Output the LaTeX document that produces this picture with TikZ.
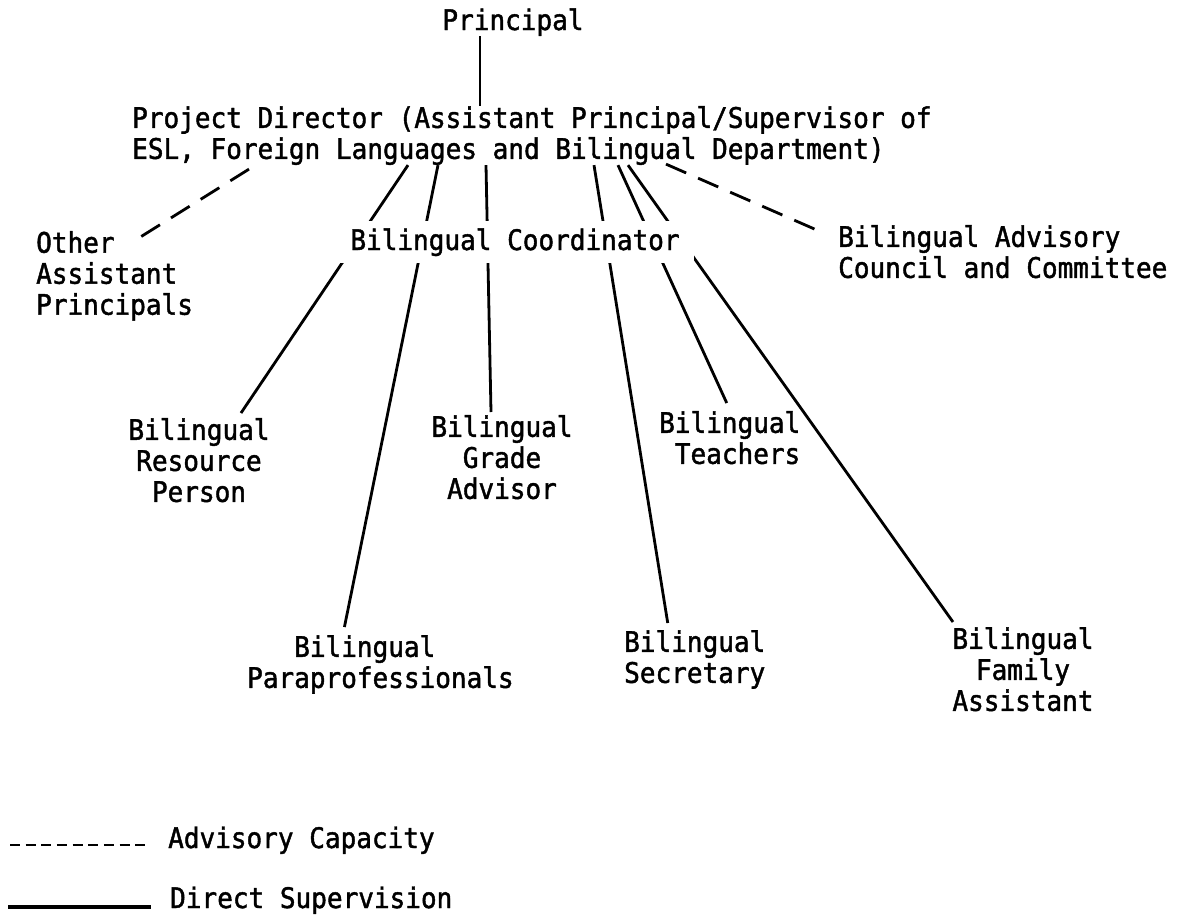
\documentclass[tikz,border=0pt]{standalone}
\usepackage{fontspec}
\newfontfamily\typed[FakeStretch=0.92,FakeBold=1.5]{DejaVu Sans Mono}
\usetikzlibrary{positioning,calc}

\tikzset{
  post/.style={font=\typed\fontsize{28.3}{31}\selectfont, inner sep=0pt},
  supervise/.style={line width=2.8pt},
  advise/.style={line width=2.8pt, dash pattern=on 22pt off 13pt},
}

\begin{document}
\begin{tikzpicture}[x=1pt,y=-1pt]
    \useasboundingbox (0,0) rectangle (1184,922);

    % Principal and project director
    \node[post, anchor=base] (prin) at (513,30) {Principal};
    \node[post, anchor=north west, align=left] (pd) at (132,106)
        {Project Director (Assistant Principal/Supervisor of\\ESL, Foreign Languages and Bilingual Department)};
    \draw[supervise] ([xshift=-33pt]prin.south) coordinate (p1) -- (p1 |- pd.north);

    % Advisory side
    \node[post, anchor=north west, align=left] (oap) at (36,231) {Other\\Assistant\\Principals};
    \node[post, anchor=north west, align=left] (bac) at (838,225) {Bilingual Advisory\\Council and Committee};
    \draw[advise] ([xshift=117pt,yshift=-4pt]pd.south west) -- ([xshift=98pt,yshift=-10pt]oap.north west);
    \draw[advise] ([xshift=534pt,yshift=1pt]pd.south west) -- ([xshift=-19pt,yshift=-6pt]bac.north west);

    % Bilingual staff
    \node[post, anchor=north, align=center] (res) at (199,418) {Bilingual\\Resource\\Person};
    \node[post, anchor=north, align=center] (grade) at (502,415) {Bilingual\\Grade\\Advisor};
    \node[post, anchor=north west, align=left] (teach) at (659,411) {Bilingual\\\hphantom{B}Teachers};
    \node[post, anchor=north west, align=left] (para) at (247,635) {\hphantom{Par}Bilingual\\Paraprofessionals};
    \node[post, anchor=north west, align=left] (sec) at (624,630) {Bilingual\\Secretary};
    \node[post, anchor=north, align=center] (fam) at (1023,627) {Bilingual\\Family\\Assistant};

    \foreach \sx/\who/\ex/\ey in {276/res/42/5, 306/para/-36/8, 354/grade/-11/3,
                                  462/sec/-27/7, 486/teach/-3/8, 496/fam/-70/5}
        \draw[supervise] ([xshift=\sx]pd.south west) -- ([xshift=\ex,yshift=\ey]\who.north);

    % Coordinator on top of the lines
    \node[post, fill=white, inner xsep=14pt, inner ysep=7pt, anchor=base] (coord) at (515,250) {Bilingual Coordinator};

    % Legend
    \node[post, anchor=base west] (advcap) at (168,848) {Advisory Capacity};
    \node[post, anchor=base west] (dirsup) at (170,908) {Direct Supervision};
    \coordinate (advkey) at (10,845);
    \coordinate (supkey) at (8,907);
    \draw[line width=2.8pt, dash pattern=on 10pt off 5.65pt, shorten >=21pt] (advkey) -- (advkey -| advcap.west);
    \draw[line width=3.8pt, shorten >=19pt] (supkey) -- (supkey -| dirsup.west);
\end{tikzpicture}
\end{document}
